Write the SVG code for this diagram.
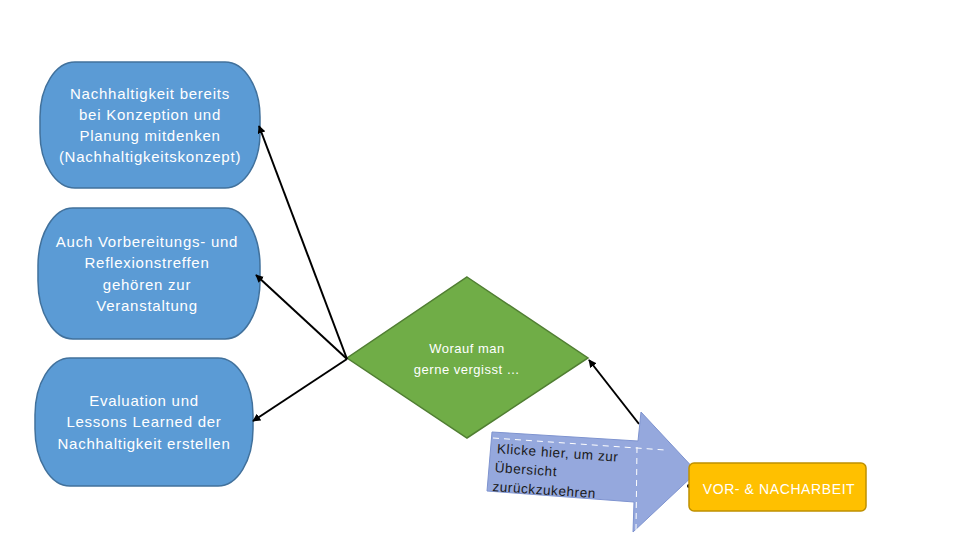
<svg xmlns="http://www.w3.org/2000/svg" width="960" height="540" viewBox="0 0 960 540">
  <defs>
    <marker id="ah" viewBox="0 0 10 10" refX="9" refY="5" markerWidth="4" markerHeight="4" orient="auto" markerUnits="strokeWidth">
      <path d="M0,0 L10,5 L0,10 z" fill="#000"/>
    </marker>
    <style>
      .node { fill: #5B9BD5; stroke: #41719C; stroke-width: 1.5; }
      .ntext { font-family: "Liberation Sans", Arial, sans-serif; font-size: 15px; letter-spacing: 0.75px; fill: #ffffff; text-anchor: middle; }
      .conn { stroke: #000; stroke-width: 2; fill: none; marker-end: url(#ah); }
      .dash { stroke: #ffffff; stroke-width: 1; stroke-dasharray: 6 5; fill: none; }
    </style>
  </defs>
  <rect width="960" height="540" fill="#ffffff"/>

  <g id="node1">
    <path class="node" d="M75,62 H225 A35,55 0 0 1 260,117 V133 A35,55 0 0 1 225,188 H75 A35,55 0 0 1 40,133 V117 A35,55 0 0 1 75,62 Z"/>
    <text class="ntext" x="150" y="99">Nachhaltigkeit bereits</text>
    <text class="ntext" x="150" y="120">bei Konzeption und</text>
    <text class="ntext" x="150" y="141">Planung mitdenken</text>
    <text class="ntext" x="150" y="162">(Nachhaltigkeitskonzept)</text>
  </g>

  <g id="node2">
    <path class="node" d="M73,208 H225 A35,58 0 0 1 260,266 V281 A35,58 0 0 1 225,339 H73 A35,58 0 0 1 38,281 V266 A35,58 0 0 1 73,208 Z"/>
    <text class="ntext" x="147" y="247">Auch Vorbereitungs- und</text>
    <text class="ntext" x="147" y="268">Reflexionstreffen</text>
    <text class="ntext" x="147" y="290">gehören zur</text>
    <text class="ntext" x="147" y="311">Veranstaltung</text>
  </g>

  <g id="node3">
    <path class="node" d="M70,358 H218 A35,57 0 0 1 253,415 V429 A35,57 0 0 1 218,486 H70 A35,57 0 0 1 35,429 V415 A35,57 0 0 1 70,358 Z"/>
    <text class="ntext" x="144" y="406">Evaluation und</text>
    <text class="ntext" x="144" y="427">Lessons Learned der</text>
    <text class="ntext" x="144" y="449">Nachhaltigkeit erstellen</text>
  </g>

  <g id="decision">
    <polygon points="467,277 588,358 467,438 347,358" fill="#70AD47" stroke="#507E32" stroke-width="1.5"/>
    <text x="467" y="353" font-family="Liberation Sans, Arial, sans-serif" font-size="13" letter-spacing="0.5" fill="#ffffff" text-anchor="middle">Worauf man</text>
    <text x="467" y="374" font-family="Liberation Sans, Arial, sans-serif" font-size="13" letter-spacing="0.5" fill="#ffffff" text-anchor="middle">gerne vergisst …</text>
  </g>

  <g id="connectors">
    <line class="conn" x1="347" y1="359" x2="259" y2="126"/>
    <line class="conn" x1="347" y1="359" x2="256" y2="275"/>
    <line class="conn" x1="347" y1="359" x2="253" y2="421"/>
    <line class="conn" x1="639" y1="424" x2="589" y2="360"/>
    <circle cx="689" cy="486" r="2" fill="#000"/>
  </g>

  <g id="back-arrow">
    <polygon points="492,432 638,441 641,412 697,472 633,532 634,502 487,491" fill="#95A8DD" stroke="#7E93CF" stroke-width="1"/>
    <path class="dash" d="M493,438 L665,450"/>
    <path class="dash" d="M637,447 L636,530"/>
    <g transform="rotate(4 495 450)" font-family="Liberation Sans, Arial, sans-serif" font-size="13.5" letter-spacing="0.6" fill="#1a1a1a">
      <text x="497" y="453">Klicke hier, um zur</text>
      <text x="496" y="472">Übersicht</text>
      <text x="495" y="491">zurückzukehren</text>
    </g>
  </g>

  <g id="vor-nacharbeit">
    <rect x="689" y="463" width="177" height="48" rx="5" fill="#FFC000" stroke="#BF9000" stroke-width="1.5"/>
    <text x="779" y="494" font-family="Liberation Sans, Arial, sans-serif" font-size="14" letter-spacing="0.6" fill="#ffffff" text-anchor="middle">VOR- &amp; NACHARBEIT</text>
  </g>
</svg>
